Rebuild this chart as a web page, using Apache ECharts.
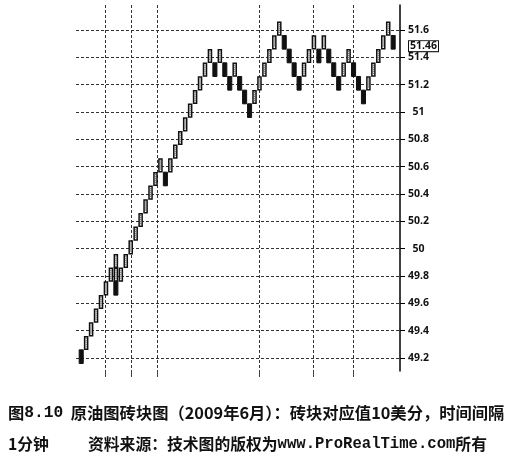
<!DOCTYPE html>
<html>
<head>
<meta charset="utf-8">
<style>
  html, body { margin: 0; padding: 0; background: #fff; }
  #chart { width: 513px; height: 455px; }
</style>
<script src="https://cdn.jsdelivr.net/npm/echarts@6/dist/echarts.min.js"></script>
</head>
<body>
<div id="chart"></div>
<script>
// ---- data ----
const boxSize = 0.1;                 // 10 cents per brick
// column index (one column per 1-minute slot) of each brick
const brickCol = [0,1,2,3,4,5,6,7,7,7,8,9,10,11,12,13,14,15,16,17,18,19,20,21,22,23,24,25,26,27,28,29,30,31,32,33,34,35,36,37,38,39,40,41,42,43,44,45,46,47,48,49,50,51,52,53,54,55,56,57,58,59,60,61,62,63];
// bottom price of each brick
const brickLow = [49.16,49.26,49.36,49.46,49.56,49.66,49.76,49.86,49.76,49.66,49.76,49.86,49.96,50.06,50.16,50.26,50.36,50.46,50.56,50.46,50.56,50.66,50.76,50.86,50.96,51.06,51.16,51.26,51.36,51.26,51.36,51.26,51.16,51.26,51.16,51.06,50.96,51.06,51.16,51.26,51.36,51.46,51.56,51.46,51.36,51.26,51.16,51.26,51.36,51.46,51.36,51.46,51.36,51.26,51.16,51.26,51.36,51.26,51.16,51.06,51.16,51.26,51.36,51.46,51.56,51.46];
// 1 = rising (hollow) brick, -1 = falling (black) brick
const brickDir = [-1,1,1,1,1,1,1,1,1,-1,1,1,1,1,1,1,1,1,1,-1,1,1,1,1,1,1,1,1,1,-1,1,-1,-1,1,-1,-1,-1,1,1,1,1,1,1,-1,-1,-1,-1,1,1,1,-1,1,-1,-1,-1,1,1,-1,-1,-1,1,1,1,1,1,-1];
const yTicks = [49.2,49.4,49.6,49.8,50,50.2,50.4,50.6,50.8,51,51.2,51.4,51.6];
const timeGrid = [4.81,10.06,15.31,35.91,46.82,54.89];   // session/time separators (column units)
const lastClose = 51.46;

const bricks = brickCol.map((c, i) => [c, brickLow[i], brickDir[i]]);

const chart = echarts.init(document.getElementById('chart'), null, {renderer: 'canvas'});
const gridLine = { color: '#333', width: 1, type: [3, 2] };
const cjk = "'Noto Sans CJK SC', sans-serif";
const mono = "'Liberation Mono', monospace";

chart.setOption({
  animation: false,
  backgroundColor: '#fff',
  grid: { left: 76, right: 113, top: 5, bottom: 84 },
  xAxis: {
    type: 'value', min: -1.05, max: 64.38,
    axisLine: { show: false, onZero: false },
    axisLabel: { show: false },
    axisTick: { show: true, customValues: timeGrid, length: 6, lineStyle: { color: '#444' } },
    splitLine: { show: true, lineStyle: gridLine }
  },
  yAxis: {
    type: 'value', position: 'right', min: 49.105, max: 51.783,
    axisLine: { show: true, onZero: false, lineStyle: { color: '#000', width: 1.5 } },
    axisTick: { show: true, customValues: yTicks, length: 5, lineStyle: { color: '#000' } },
    axisLabel: { customValues: yTicks, margin: 18.5, align: 'center', color: '#111',
      fontFamily: "'Open Sans', sans-serif", fontSize: 10.5, fontWeight: 700 },
    splitLine: { show: true, lineStyle: gridLine }
  },
  title: [
    { left: 8, top: 405, padding: 0,
      text: '{a|图}{m|8.10}{a|  原油图砖块图（2009年6月）：砖块对应值10美分，时间间隔}',
      textStyle: { rich: {
        a: { fontFamily: cjk, fontSize: 16.3, fontWeight: 'bold', color: '#111' },
        m: { fontFamily: mono, fontSize: 16.3, fontWeight: 'bold', color: '#111' }
      } } },
    { left: 8, top: 436, padding: 0,
      text: '{a|1分钟}',
      textStyle: { rich: { a: { fontFamily: cjk, fontSize: 15.8, fontWeight: 'bold', color: '#111' } } } },
    { left: 88, top: 436, padding: 0,
      text: '{a|资料来源：技术图的版权为}{m|www.ProRealTime.com}{a|所有}',
      textStyle: { rich: {
        a: { fontFamily: cjk, fontSize: 15.8, fontWeight: 'bold', color: '#111' },
        m: { fontFamily: mono, fontSize: 15.6, fontWeight: 'bold', color: '#111' }
      } } }
  ],
  series: [{
    type: 'custom',
    data: bricks,
    clip: true,
    renderItem: function (params, api) {
      const col = api.value(0), low = api.value(1), dir = api.value(2);
      const top = api.coord([col, low + boxSize]);
      const bot = api.coord([col, low]);
      const w = api.size([1, 0])[0] * 0.82;
      const x = top[0] - w / 2, y = top[1], h = bot[1] - top[1];
      if (dir < 0) {
        return { type: 'rect', shape: { x: x, y: y, width: w, height: h },
                 style: { fill: '#111', stroke: '#111', lineWidth: 1 } };
      }
      return { type: 'group', children: [
        { type: 'rect', shape: { x: x + 0.5, y: y + 0.5, width: w - 1, height: h - 1 },
          style: { fill: '#fff', stroke: '#111', lineWidth: 1.5 } },
        { type: 'line', shape: { x1: top[0], y1: y + 2, x2: top[0], y2: y + h - 2 },
          style: { stroke: '#555', lineWidth: 1.3, lineDash: [1, 1] } }
      ] };
    },
    markLine: {
      silent: true, symbol: 'none',
      lineStyle: { color: 'rgba(0,0,0,0)', width: 0 },
      data: [{ yAxis: lastClose }],
      label: { show: true, position: 'end', distance: 9, offset: [0, -3],
        formatter: String(lastClose), color: '#111',
        fontFamily: "'Open Sans', sans-serif", fontSize: 10.5, fontWeight: 700,
        backgroundColor: '#fff', borderColor: '#111', borderWidth: 1, padding: [0, 1, -1, 1] }
    }
  }]
});
</script>
</body>
</html>
